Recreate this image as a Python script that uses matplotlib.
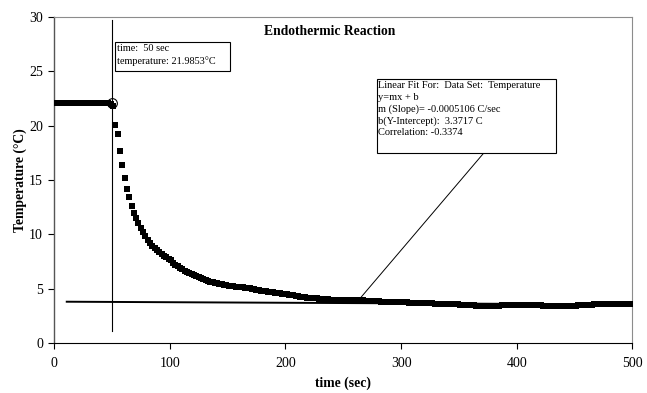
import numpy as np
import matplotlib
matplotlib.use('Agg')
import matplotlib.pyplot as plt
from matplotlib.patches import Rectangle

plt.rcParams['font.family'] = ['Liberation Serif', 'DejaVu Serif']

# temperature readings, one every 2 sec starting at t = 1 sec
temps = [
    22.12, 22.1, 22.11, 22.1, 22.09, 22.1, 22.11, 22.1, 22.1, 22.09,
    22.1, 22.1, 22.09, 22.1, 22.1, 22.1, 22.09, 22.1, 22.1, 22.08,
    22.1, 22.08, 22.07, 22.05, 22.0, 21.8, 20.05, 19.2, 17.7, 16.4,
    15.2, 14.2, 13.4, 12.6, 12.0, 11.5, 11.05, 10.6, 10.2, 9.85,
    9.5, 9.2, 8.95, 8.75, 8.55, 8.35, 8.2, 8.05, 7.9, 7.75,
    7.6, 7.4, 7.2, 7.05, 6.9, 6.78, 6.66, 6.55, 6.45, 6.35,
    6.25, 6.15, 6.05, 5.95, 5.87, 5.8, 5.73, 5.66, 5.6, 5.54,
    5.49, 5.44, 5.39, 5.35, 5.31, 5.28, 5.25, 5.23, 5.2, 5.17,
    5.14, 5.11, 5.08, 5.05, 5.02, 4.98, 4.95, 4.91, 4.87, 4.83,
    4.79, 4.75, 4.71, 4.68, 4.65, 4.62, 4.59, 4.56, 4.53, 4.5,
    4.47, 4.44, 4.41, 4.38, 4.34, 4.3, 4.27, 4.24, 4.21, 4.18,
    4.16, 4.14, 4.12, 4.1, 4.08, 4.06, 4.04, 4.02, 4.01, 4.0,
    3.99, 3.98, 3.97, 3.97, 3.96, 3.96, 3.96, 3.96, 3.96, 3.96,
    3.96, 3.95, 3.94, 3.92, 3.9, 3.89, 3.87, 3.86, 3.85, 3.84,
    3.83, 3.82, 3.81, 3.8, 3.79, 3.78, 3.78, 3.77, 3.77, 3.76,
    3.75, 3.74, 3.73, 3.72, 3.71, 3.7, 3.69, 3.68, 3.67, 3.66,
    3.66, 3.65, 3.65, 3.64, 3.63, 3.62, 3.61, 3.6, 3.6, 3.6,
    3.62, 3.63, 3.62, 3.6, 3.57, 3.54, 3.52, 3.5, 3.49, 3.48,
    3.47, 3.46, 3.45, 3.44, 3.42, 3.41, 3.4, 3.4, 3.41, 3.42,
    3.43, 3.44, 3.45, 3.46, 3.46, 3.47, 3.47, 3.47, 3.48, 3.48,
    3.49, 3.49, 3.5, 3.5, 3.5, 3.5, 3.49, 3.49, 3.48, 3.47,
    3.46, 3.45, 3.44, 3.43, 3.42, 3.42, 3.41, 3.41, 3.4, 3.4,
    3.4, 3.41, 3.42, 3.43, 3.44, 3.45, 3.46, 3.48, 3.5, 3.51,
    3.52, 3.53, 3.54, 3.55, 3.56, 3.56, 3.56, 3.55, 3.55, 3.55,
    3.55, 3.55, 3.55, 3.55, 3.55, 3.55, 3.55, 3.55, 3.55, 3.55,
]
times = np.arange(len(temps)) * 2 + 1

# examine cursor
cursor_t = 50
cursor_temp = 21.9853

# linear fit line as drawn on the chart
fit_t = [11, 500]
fit_y = [3.8, 3.55]

fig = plt.figure(figsize=(6.47, 3.93), dpi=100)
ax = fig.add_axes([0.0835, 0.1272, 0.894, 0.8295])

ax.plot(times, temps, 's', color='black', markersize=4.3, markeredgewidth=0, zorder=3)
ax.plot(fit_t, fit_y, color='black', linewidth=1.4, zorder=2)
ax.plot([cursor_t, cursor_t], [1.1, 29.7], color='black', linewidth=0.8, zorder=2)
ax.plot([cursor_t], [22.1], 'o', markerfacecolor='none', markeredgecolor='black',
        markersize=7, markeredgewidth=0.8, zorder=4)

ax.set_xlim(0, 500)
ax.set_ylim(0, 30)
ax.set_xticks([0, 100, 200, 300, 400, 500])
ax.set_yticks([0, 5, 10, 15, 20, 25, 30])
ax.tick_params(labelsize=10, direction='out', length=4, width=0.8, pad=6)
ax.tick_params(axis='y', length=4, pad=4)

for s in ['top', 'right']:
    ax.spines[s].set_color('#8c8c8c')
    ax.spines[s].set_linewidth(0.8)
ax.spines['left'].set_color('#555555')
ax.spines['left'].set_linewidth(1.0)
ax.spines['bottom'].set_color('black')
ax.spines['bottom'].set_linewidth(0.8)

ax.set_xlabel('time (sec)', fontsize=9.8, fontweight='bold', labelpad=5)
ax.set_ylabel('Temperature (°C)', fontsize=9.8, fontweight='bold', labelpad=1.5)
ax.text(0.477, 0.955, 'Endothermic Reaction', transform=ax.transAxes, ha='center',
        va='center', fontsize=9.8, fontweight='bold')

# cursor readout box
ax.add_patch(Rectangle((53, 25.05), 99, 2.65, facecolor='white', edgecolor='black',
                       linewidth=0.8, zorder=5))
ax.text(54.5, 27.5, 'time:  50 sec\ntemperature: 21.9853°C', fontsize=7.4, va='top',
        ha='left', linespacing=1.45, zorder=6)

# linear fit box with leader line
ax.plot([371.6, 264.5], [17.5, 4.1], color='black', linewidth=0.7, zorder=2)
ax.add_patch(Rectangle((279, 17.5), 155, 6.8, facecolor='white', edgecolor='black',
                       linewidth=0.8, zorder=5))
ax.text(280, 24.1, 'Linear Fit For:  Data Set:  Temperature\ny=mx + b\n'
        'm (Slope)= -0.0005106 C/sec\nb(Y-Intercept):  3.3717 C\nCorrelation: -0.3374',
        fontsize=7.5, va='top', ha='left', linespacing=1.35, zorder=6)

fig.savefig('out.png', dpi=100)
